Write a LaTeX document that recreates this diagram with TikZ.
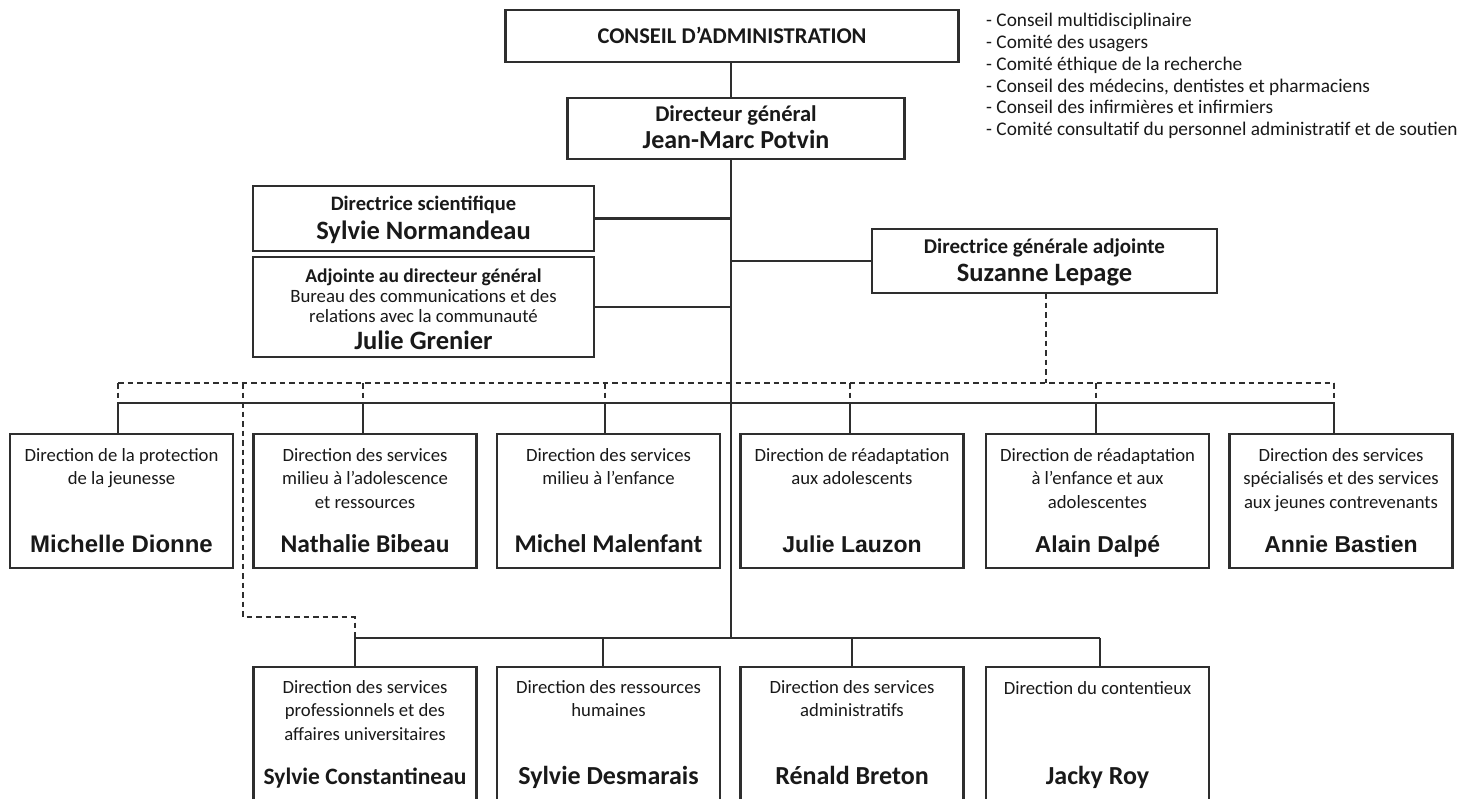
\documentclass[tikz,border=0pt]{standalone}
\usepackage{fontspec}
\setmainfont{Carlito}
\newfontfamily\arialf{Liberation Sans}
\begin{document}
\begin{tikzpicture}[x=1pt,y=-1pt,
  box/.style={draw=black!82, line width=2.2pt, rectangle, inner sep=0pt, outer sep=0pt, fill=white},
  ln/.style={draw=black!82, line width=2.2pt},
  dots/.style={draw=black!82, line width=2.2pt, dash pattern=on 5.5pt off 4pt},
  txt/.style={inner sep=0pt, align=center, text=black!90, anchor=base},
  desc/.style={inner sep=0pt, align=center, text=black!90, anchor=north,
     font=\fontsize{18.7}{23.7}\selectfont, execute at begin node={\rule{0pt}{14pt}}},
  nmc/.style={txt, font=\fontsize{25.5}{28}\selectfont\bfseries},
  nma/.style={txt, font=\arialf\fontsize{23}{26}\selectfont\bfseries},
  mid/.style={box, minimum width=223pt, minimum height=134pt},
  low/.style={box, minimum width=223pt, minimum height=180pt},
]
\clip (0,0) rectangle (1466,798);
\fill[white] (0,0) rectangle (1466,798);

% coordinates
\coordinate (mx) at (731,0);
\coordinate (bj) at (731,638);
\coordinate (d1) at (118,403);
\coordinate (d2) at (363,403);
\coordinate (d3) at (605,403);
\coordinate (d4) at (850,403);
\coordinate (d5) at (1096,403);
\coordinate (d6) at (1334,403);
\coordinate (q1) at (118,383);
\coordinate (qx) at (243,383);
\coordinate (q2) at (363,383);
\coordinate (q3) at (605,383);
\coordinate (q4) at (850,383);
\coordinate (qd) at (1046,383);
\coordinate (q5) at (1096,383);
\coordinate (q6) at (1334,383);
\coordinate (qc) at (243,617);
\coordinate (b1) at (355,638);
\coordinate (b2) at (603,638);
\coordinate (b3) at (852,638);
\coordinate (b4) at (1100,638);

% boxes
\node[box, minimum width=453pt, minimum height=52pt] (cons) at (732,36) {};
\node[box, minimum width=337pt, minimum height=61pt] (dg) at (736,128.5) {};
\node[box, minimum width=341pt, minimum height=65pt] (sci) at (423.5,218.5) {};
\node[box, minimum width=341pt, minimum height=100pt] (adj) at (423.5,307) {};
\node[box, minimum width=345pt, minimum height=64pt] (dga) at (1044.5,261) {};

\node[mid] (m1) at (121.5,501) {};
\node[mid] (m2) at (365,501) {};
\node[mid] (m3) at (608.5,501) {};
\node[mid] (m4) at (852,501) {};
\node[mid] (m5) at (1097.5,501) {};
\node[mid] (m6) at (1341,501) {};

\node[low] (l1) at (365,757) {};
\node[low] (l2) at (608.5,757) {};
\node[low] (l3) at (852,757) {};
\node[low] (l4) at (1097.5,757) {};

% connectors
\draw[ln] (cons.south -| mx) -- (dg.north -| mx);
\draw[ln] (dg.south -| mx) -- (bj);
\draw[ln] (sci.east) -- (sci.east -| mx);
\draw[ln] (adj.east) -- (adj.east -| mx);
\draw[ln] (mx |- dga.west) -- (dga.west);
\draw[ln] (d1) -- (d6);
\draw[ln] (d1) -- (d1 |- m1.north);
\draw[ln] (d2) -- (d2 |- m2.north);
\draw[ln] (d3) -- (d3 |- m3.north);
\draw[ln] (d4) -- (d4 |- m4.north);
\draw[ln] (d5) -- (d5 |- m5.north);
\draw[ln] (d6) -- (d6 |- m6.north);
\draw[ln] (b1) -- (b4);
\draw[ln] (b1) -- (b1 |- l1.north);
\draw[ln] (b2) -- (b2 |- l2.north);
\draw[ln] (b3) -- (b3 |- l3.north);
\draw[ln] (b4) -- (b4 |- l4.north);

\draw[dots] (qd |- dga.south) -- (qd);
\draw[dots] (q1) -- (q6);
\draw[dots] (q1) -- (d1);
\draw[dots] (q2) -- (d2);
\draw[dots] (q3) -- (d3);
\draw[dots] (q4) -- (d4);
\draw[dots] (q5) -- (d5);
\draw[dots] (q6) -- (d6);
\draw[dots] (qx) -- (qc) -| (b1);

% texts top
\node[txt, font=\fontsize{22.5}{25}\selectfont\bfseries] (tcons) at (732,43.5) {CONSEIL D’ADMINISTRATION};
\node[txt, font=\fontsize{22.5}{26}\selectfont\bfseries] (tdg1) at (736,121) {Directeur général};
\node[txt, font=\fontsize{26}{29}\selectfont\bfseries] (tdg2) at (736,148.5) {Jean-Marc Potvin};
\node[txt, font=\fontsize{20.5}{23}\selectfont\bfseries] (tsci1) at (423.5,210.5) {Directrice scientifique};
\node[txt, font=\fontsize{26.5}{29}\selectfont\bfseries] (tsci2) at (423.5,239) {Sylvie Normandeau};
\node[txt, font=\fontsize{19.5}{22}\selectfont\bfseries] (tadj1) at (423.5,282) {Adjointe au directeur général};
\node[txt, font=\fontsize{18.8}{22}\selectfont] (tadj2) at (423.5,302) {Bureau des communications et des};
\node[txt, font=\fontsize{18.8}{22}\selectfont] (tadj3) at (423.5,322) {relations avec la communauté};
\node[txt, font=\fontsize{26.5}{29}\selectfont\bfseries] (tadj4) at (423.5,349) {Julie Grenier};
\node[txt, font=\fontsize{21}{24}\selectfont\bfseries] (tdga1) at (1044.5,253) {Directrice générale adjointe};
\node[txt, font=\fontsize{26.5}{29}\selectfont\bfseries] (tdga2) at (1044.5,281.5) {Suzanne Lepage};

\node[inner sep=0pt, anchor=north west, align=left, text=black!90,
  font=\fontsize{19.3}{21.8}\selectfont, execute at begin node={\rule{0pt}{15pt}}] (list) at (986,13)
  {- Conseil multidisciplinaire\\
   - Comité des usagers\\
   - Comité éthique de la recherche\\
   - Conseil des médecins, dentistes et pharmaciens\\
   - Conseil des infirmières et infirmiers\\
   - Comité consultatif du personnel administratif et de soutien};

% middle row texts
\node[desc] (tm1) at (121.5,448) {Direction de la protection\\de la jeunesse};
\node[desc] (tm2) at (365,448) {Direction des services\\milieu à l’adolescence\\et ressources};
\node[desc] (tm3) at (608.5,448) {Direction des services\\milieu à l’enfance};
\node[desc] (tm4) at (852,448) {Direction de réadaptation\\aux adolescents};
\node[desc] (tm5) at (1097.5,448) {Direction de réadaptation\\à l’enfance et aux\\adolescentes};
\node[desc] (tm6) at (1341,448) {Direction des services\\spécialisés et des services\\aux jeunes contrevenants};

\node[nma, font=\arialf\fontsize{24}{26}\selectfont\bfseries] (nm1) at (121.5,552) {Michelle Dionne};
\node[nmc] (nm2) at (365,552) {Nathalie Bibeau};
\node[nmc] (nm3) at (608.5,552) {Michel Malenfant};
\node[nma] (nm4) at (852,552) {Julie Lauzon};
\node[nma] (nm5) at (1097.5,552) {Alain Dalpé};
\node[nma] (nm6) at (1341,552) {Annie Bastien};

% bottom row texts
\node[desc] (tl1) at (365,680) {Direction des services\\professionnels et des\\affaires universitaires};
\node[desc] (tl2) at (608.5,680) {Direction des ressources\\humaines};
\node[desc] (tl3) at (852,680) {Direction des services\\administratifs};
\node[desc] (tl4) at (1097.5,680) {Direction du contentieux};

\node[nmc, font=\fontsize{23.5}{26}\selectfont\bfseries] (nl1) at (365,784) {Sylvie Constantineau};
\node[nmc, font=\fontsize{26}{28}\selectfont\bfseries] (nl2) at (608.5,784) {Sylvie Desmarais};
\node[nmc, font=\fontsize{26}{28}\selectfont\bfseries] (nl3) at (852,784) {Rénald Breton};
\node[nmc, font=\fontsize{26}{28}\selectfont\bfseries] (nl4) at (1097.5,784) {Jacky Roy};
\end{tikzpicture}
\end{document}
